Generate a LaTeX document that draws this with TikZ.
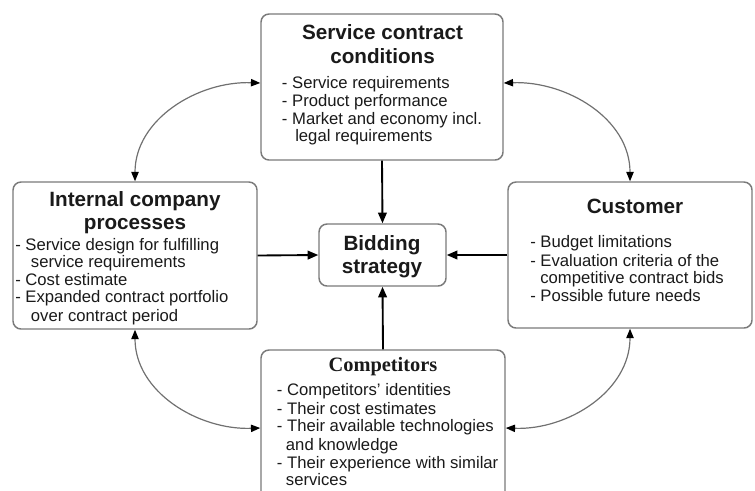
\documentclass[tikz,border=0pt]{standalone}
\usepackage{fontspec}
\setmainfont{Liberation Sans}
\newfontfamily\serifbold{Liberation Serif}
\usetikzlibrary{arrows.meta}
\definecolor{boxgray}{HTML}{7A7A7A}
\definecolor{txt}{HTML}{1A1A1A}
\definecolor{curvegray}{HTML}{707070}
\tikzset{
  box/.style={draw=boxgray, line width=1.1pt, rounded corners=6pt, inner sep=0pt, fill=white},
  ttl/.style={font=\bfseries\fontsize{15.5}{17}\selectfont, text=txt, anchor=base, inner sep=0pt},
  sttl/.style={font=\serifbold\bfseries\fontsize{15.3}{17}\selectfont, text=txt, anchor=base, inner sep=0pt},
  bodyt/.style={font=\fontsize{12.5}{14}\selectfont, text=txt, anchor=base west, inner sep=0pt},
  mainarrow/.style={-{Triangle[length=8pt,width=6.5pt]}, line width=1.4pt, draw=black},
  curvearrow/.style={{Triangle[length=7pt,width=5.5pt,color=black]}-{Triangle[length=7pt,width=5.5pt,color=black]}, line width=0.9pt, draw=curvegray}
}
\begin{document}
\begin{tikzpicture}[x=0.75pt, y=-0.75pt]
\useasboundingbox (0,0) rectangle (755,490);
\clip (0,0) rectangle (755,490);

% boxes
\node[box, minimum width=181.5pt, minimum height=109.5pt] (scc) at (382,87) {};
\node[box, minimum width=183pt, minimum height=110.25pt] (icp) at (135,255.5) {};
\node[box, minimum width=183pt, minimum height=109.5pt] (cus) at (630,255) {};
\node[box, minimum width=95.25pt, minimum height=46.5pt] (bid) at (382.5,255) {};
\node[box, minimum width=183pt, minimum height=127.5pt] (cmp) at (383,435) {};

% Service contract conditions
\node[ttl] (scc1) at (382.5,39) {Service contract};
\node[ttl] (scc2) at (382.5,63) {conditions};
\node[bodyt] (scc3) at (281.7,88.3) {- Service requirements};
\node[bodyt] (scc4) at (281.7,106) {- Product performance};
\node[bodyt] (scc5) at (281.7,124) {- Market and economy incl.};
\node[bodyt] (scc6) at (295,141.7) {legal requirements};

% Internal company processes
\node[ttl] (icp1) at (135,206.7) {Internal company};
\node[ttl] (icp2) at (135,229.3) {processes};
\node[bodyt] (icp3) at (15,250) {- Service design for fulfilling};
\node[bodyt] (icp4) at (30.7,267.5) {service requirements};
\node[bodyt] (icp5) at (15,285) {- Cost estimate};
\node[bodyt] (icp6) at (15,302.7) {- Expanded contract portfolio};
\node[bodyt] (icp7) at (30.7,321) {over contract period};

% Customer
\node[ttl] (cus1) at (635,213.3) {Customer};
\node[bodyt] (cus2) at (530,247.3) {- Budget limitations};
\node[bodyt] (cus3) at (530,266) {- Evaluation criteria of the};
\node[bodyt] (cus4) at (540,283.3) {competitive contract bids};
\node[bodyt] (cus5) at (530,301.7) {- Possible future needs};

% Bidding strategy
\node[ttl] (bid1) at (382,250) {Bidding};
\node[ttl] (bid2) at (382,273.3) {strategy};

% Competitors
\node[sttl] (cmp1) at (383,371.7) {Competitors};
\node[bodyt] (cmp2) at (276.7,395) {- Competitors’ identities};
\node[bodyt] (cmp3) at (276.7,414) {- Their cost estimates};
\node[bodyt] (cmp4) at (276.7,431.7) {- Their available technologies};
\node[bodyt] (cmp5) at (285.7,450) {and knowledge};
\node[bodyt] (cmp6) at (276.7,468.3) {- Their experience with similar};
\node[bodyt] (cmp7) at (285.7,485.7) {services};

% main arrows
\draw[mainarrow] (scc.south) -- (bid.north);
\draw[mainarrow] (icp.east) -- (bid.west);
\draw[mainarrow] (cus.west) -- (bid.east);
\draw[mainarrow] (cmp.north) -- (bid.south);

% curved double arrows
\draw[curvearrow] (icp.north) to[out=90, in=178] ([yshift=3pt]scc.west);
\draw[curvearrow] ([yshift=3pt]scc.east) to[out=2, in=90] (cus.north);
\draw[curvearrow] (icp.south) to[out=-90, in=182] ([yshift=5.25pt]cmp.west);
\draw[curvearrow] (cus.south) to[out=-90, in=-2] ([yshift=5.25pt]cmp.east);
\end{tikzpicture}
\end{document}
